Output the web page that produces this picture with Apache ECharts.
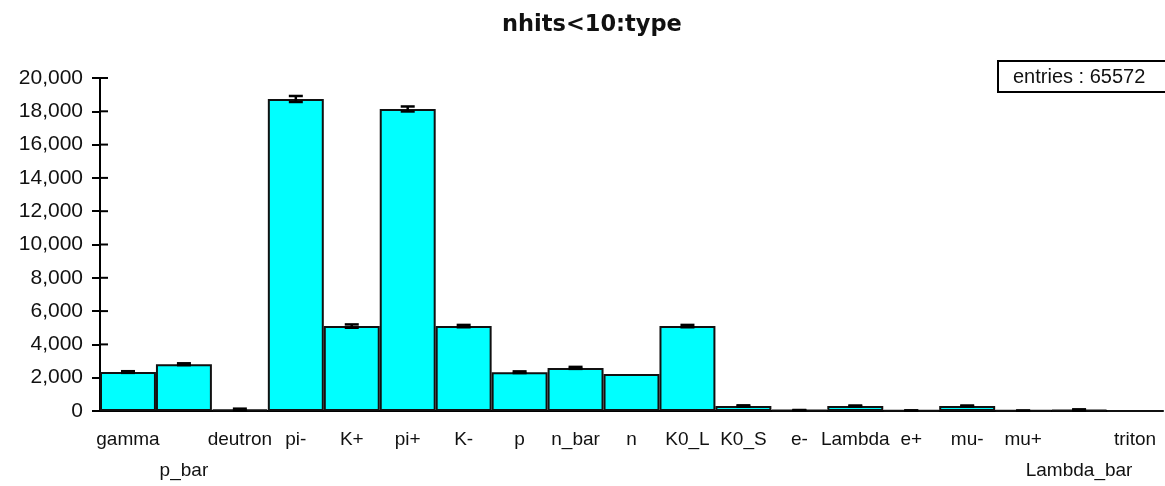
<!DOCTYPE html>
<html>
<head>
<meta charset="utf-8">
<script src="https://cdn.jsdelivr.net/npm/echarts@6/dist/echarts.min.js"></script>
<style>
  html, body { margin: 0; padding: 0; background: #fff; }
  #chart { width: 1165px; height: 486px; }
</style>
</head>
<body>
<div id="chart"></div>
<script>
// particle types
var types = ['gamma', 'p_bar', 'deutron', 'pi-', 'K+', 'pi+', 'K-', 'p', 'n_bar', 'n',
  'K0_L', 'K0_S', 'e-', 'Lambda', 'e+', 'mu-', 'mu+', 'Lambda_bar', 'triton'];
// counts per type
var counts = [2340, 2810, 80, 18740, 5100, 18140, 5100, 2330, 2590, 2220,
  5100, 300, 50, 300, 30, 300, 20, 60, 10];
// error bar half heights
var errors = [50, 55, 60, 180, 100, 150, 70, 50, 60, 0,
  70, 40, 10, 30, 5, 30, 5, 40, 0];
// y tick values
var yTicks = [0, 2000, 4000, 6000, 8000, 10000, 12000, 14000, 16000, 18000, 20000];
// labels pushed to the second row
var lowLabels = ['p_bar', 'Lambda_bar'];
var entries = 65572;

var font = '"Liberation Sans", Arial, sans-serif';

var chart = echarts.init(document.getElementById('chart'), null, { renderer: 'canvas' });

chart.setOption({
  animation: false,
  title: {
    text: 'nhits<10:type',
    left: 497,
    top: 9,
    textStyle: { fontFamily: '"DejaVu Sans", sans-serif', fontSize: 22.5, fontWeight: 'bold', color: '#111' }
  },
  grid: { left: 100, right: 2, top: 78, bottom: 74 },
  xAxis: {
    type: 'category',
    data: types,
    axisLine: { lineStyle: { color: '#000', width: 2 } },
    axisTick: { alignWithLabel: true, length: 10, lineStyle: { color: '#000', width: 2 } },
    axisLabel: {
      interval: 0,
      margin: 13,
      fontFamily: font,
      fontSize: 19,
      color: '#111',
      lineHeight: 31,
      formatter: function (v) {
        return lowLabels.indexOf(v) >= 0 ? '\n' + v : v;
      }
    }
  },
  yAxis: {
    type: 'value',
    min: yTicks[0],
    max: yTicks[yTicks.length - 1],
    interval: 2000,
    splitLine: { show: false },
    axisLine: { show: true, lineStyle: { color: '#000', width: 2 } },
    axisTick: { show: true, length: 8, lineStyle: { color: '#000', width: 2 } },
    axisLabel: {
      margin: 17,
      fontFamily: font,
      fontSize: 21,
      color: '#111',
      formatter: function (v) { return v.toLocaleString('en-US'); }
    }
  },
  series: [{
    type: 'bar',
    data: counts,
    barCategoryGap: 0,
    itemStyle: { color: '#00FFFF', borderColor: '#111', borderWidth: 2 }
  }, {
    // error bars
    type: 'custom',
    data: counts.map(function (c, i) { return [i, c, errors[i]]; }),
    z: 5,
    renderItem: function (params, api) {
      var i = api.value(0), v = api.value(1), e = api.value(2);
      if (!e) return null;
      var top = api.coord([i, v + e]);
      var bot = api.coord([i, Math.max(v - e, 0)]);
      var w = 7;
      var st = { stroke: '#000', lineWidth: 2.5 };
      return {
        type: 'group',
        children: [
          { type: 'line', shape: { x1: top[0], y1: top[1], x2: bot[0], y2: bot[1] }, style: st },
          { type: 'line', shape: { x1: top[0] - w, y1: top[1], x2: top[0] + w, y2: top[1] }, style: st },
          { type: 'line', shape: { x1: bot[0] - w, y1: bot[1], x2: bot[0] + w, y2: bot[1] }, style: st }
        ]
      };
    }
  }, {
    // inner halves of the y ticks, so they cross the axis line
    type: 'custom',
    data: yTicks.map(function (t) { return [0, t]; }),
    z: 1,
    silent: true,
    renderItem: function (params, api) {
      var y = api.coord([0, api.value(1)])[1];
      var x0 = params.coordSys.x;
      return {
        type: 'line',
        shape: { x1: x0, y1: y, x2: x0 + 8, y2: y },
        style: { stroke: '#000', lineWidth: 2 }
      };
    }
  }],
  graphic: [{
    type: 'group',
    left: 997,
    top: 60,
    children: [{
      type: 'rect',
      shape: { x: 0, y: 0, width: 172, height: 31 },
      style: { fill: '#fff', stroke: '#000', lineWidth: 2 }
    }, {
      type: 'text',
      x: 15,
      y: 6,
      style: { text: 'entries : ' + entries, font: '20px ' + font, fill: '#111' }
    }]
  }]
});
</script>
</body>
</html>
